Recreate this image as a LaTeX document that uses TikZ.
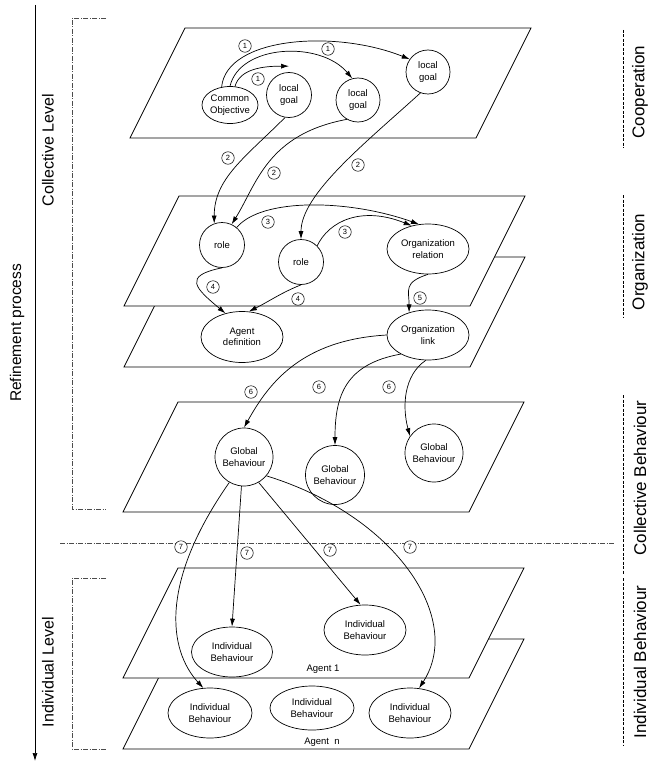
\documentclass[tikz,border=0pt]{standalone}
\usepackage{fontspec}
\setmainfont{Liberation Sans}
\usetikzlibrary{shapes.geometric,arrows.meta}

\begin{document}
\begin{tikzpicture}[
		x = 1pt, y = -1pt,
		line width = 0.7pt,
		every node/.style = {font=\fontsize{9.5}{11.5}\selectfont, align=center, inner sep=0},
		plane/.style = {draw, fill=white},
		circ/.style = {circle, draw, fill=white},
		ell/.style = {ellipse, draw, fill=white},
		num/.style = {circle, draw, fill=white, minimum size=12.5pt, line width=0.5pt, font=\fontsize{7.5}{7.5}\selectfont},
		arr/.style = {-{Latex[length=8pt,width=5pt]}},
		level/.style = {rotate=90, font=\fontsize{17}{17}\selectfont},
		brk/.style = {black!70, line width=0.6pt, dash pattern=on 5pt off 1.5pt on 1pt off 1.5pt},
		side/.style = {line width=0.5pt, dash pattern=on 3pt off 1.5pt}
	]

	\useasboundingbox (0,0) rectangle (656,765);

	\foreach \px/\py in {185/28, 179/257, 179/196, 178/402, 178/639, 178/568}
		\draw[plane] (\px,\py) -- ++(346,0) -- ++(-55,110) -- ++(-346,0) -- cycle;

	\coordinate (axtop) at (35,5);
	\coordinate (axbot) at (35,761);
	\draw[arr] (axtop) -- (axbot);
	\node[level, font=\fontsize{15.5}{15.5}\selectfont] (refine) at (17,333) {Refinement process};

	\draw[brk] (106,18) -- (72,18) -- (72,509) -- (106,509);
	\draw[brk] (106,578) -- (72,578) -- (72,749) -- (106,749);
	\draw[brk] (60,543) -- (615,543);
	\node[level, font=\fontsize{16}{16}\selectfont] (collevel) at (48,150) {Collective Level};
	\node[level, font=\fontsize{16}{16}\selectfont] (indlevel) at (48,672) {Individual Level};

	\foreach \ya/\yb/\yc/\txt [count=\i] in {30/148/92/Cooperation, 195/318/262/Organization, 395/575/478/Collective Behaviour, 578/745/662/Individual Behaviour}{
		\draw[side] (623,\ya) -- (623,\yb);
		\node[level] (layer\i) at (640,\yc) {\txt};
	}

	\node[ell, minimum width=56, minimum height=37] (common) at (230,105) {Common\\Objective};
	\node[circ, minimum size=45] (goal1) at (289,95) {local\\goal};
	\node[circ, minimum size=44] (goal2) at (358,100) {local\\goal};
	\node[circ, minimum size=44] (goal3) at (428,72) {local\\goal};

	\node[circ, minimum size=45] (role1) at (222,245) {role};
	\node[circ, minimum size=45] (role2) at (301,262) {role};
	\node[ell, minimum width=82, minimum height=50] (orgrel) at (428,249) {Organization\\relation};
	\node[ell, minimum width=82, minimum height=51] (agdef) at (242,337) {Agent\\definition};
	\node[ell, minimum width=82, minimum height=50] (orglink) at (428,335) {Organization\\link};

	\node[circ, minimum size=58] (glob1) at (244,457) {Global\\Behaviour};
	\node[circ, minimum size=59] (glob2) at (335,475) {Global\\Behaviour};
	\node[circ, minimum size=58] (glob3) at (434,453) {Global\\Behaviour};

	\node[ell, minimum width=81, minimum height=50] (indiv1) at (232,652) {Individual\\Behaviour};
	\node[ell, minimum width=82, minimum height=50] (indiv2) at (365,630) {Individual\\Behaviour};
	\node[ell, minimum width=84, minimum height=50] (indiv3) at (210,713) {Individual\\Behaviour};
	\node[ell, minimum width=84, minimum height=44] (indiv4) at (312,708) {Individual\\Behaviour};
	\node[ell, minimum width=82, minimum height=50] (indiv5) at (410,713) {Individual\\Behaviour};
	\node (agent1) at (323,669) {Agent 1};
	\node (agentn) at (322,742) {Agent~ n};

	\draw[arr] (common.115) .. controls +(5,-50) and +(-75,-30) .. (goal3.145);
	\draw[arr] (common.90) .. controls +(10,-42) and +(-32,-38) .. (goal2.105);
	\draw[arr] (common.75) .. controls +(5,-18) and +(-25,0) .. ([yshift=6pt]goal1.north);

	\draw[arr] (goal1.260) .. controls +(-40,40) and +(0,-45) .. (role1.110);
	\draw[arr] (goal2.240) .. controls +(-80,15) and +(25,-40) .. (role1.65);
	\draw[arr] (goal3.250) .. controls +(-55,50) and +(0,-45) .. (role2.north);

	\draw[arr] (role1.50) .. controls +(25,-30) and +(-70,-25) .. (orgrel.110);
	\draw[arr] (role2.45) .. controls +(12,-25) and +(-50,-20) .. (orgrel.125);

	\draw[arr] (role1.south) .. controls +(-40,8) and +(-30,-25) .. (agdef.125);
	\draw[arr] (role2.south) .. controls +(-20,8) and +(20,-10) .. (agdef.75);
	\draw[arr] (orgrel.south) .. controls +(-25,8) and +(0,-22) .. (orglink.130);

	\draw[arr] (orglink.west) .. controls +(-85,5) and +(25,-45) .. (glob1.north);
	\draw[arr] (orglink.215) .. controls +(-55,10) and +(0,-50) .. (glob2.north);
	\draw[arr] (orglink.265) .. controls +(-22,15) and +(-8,-30) .. (glob3.145);

	\draw[arr] (glob1.240) .. controls +(-70,100) and +(-35,-38) .. (indiv3.105);
	\draw[arr] (glob1.265) -- (indiv1.north);
	\draw[arr] (glob1.300) -- (indiv2.100);
	\draw[arr] (glob1.320) .. controls +(130,40) and +(45,-69) .. (indiv5.70);

	\foreach \n/\x/\y [count=\i] in {1/245/46, 1/328/49, 1/258/79, 2/228/158, 2/274/173, 2/358/165, 3/268/222, 3/345/232, 4/213/287, 4/298/299, 5/420/298, 6/251/392, 6/319/387, 6/389/387, 7/181/547, 7/247/553, 7/330/550, 7/410/547}
		\node[num] (num\i) at (\x,\y) {\n};

\end{tikzpicture}
\end{document}
